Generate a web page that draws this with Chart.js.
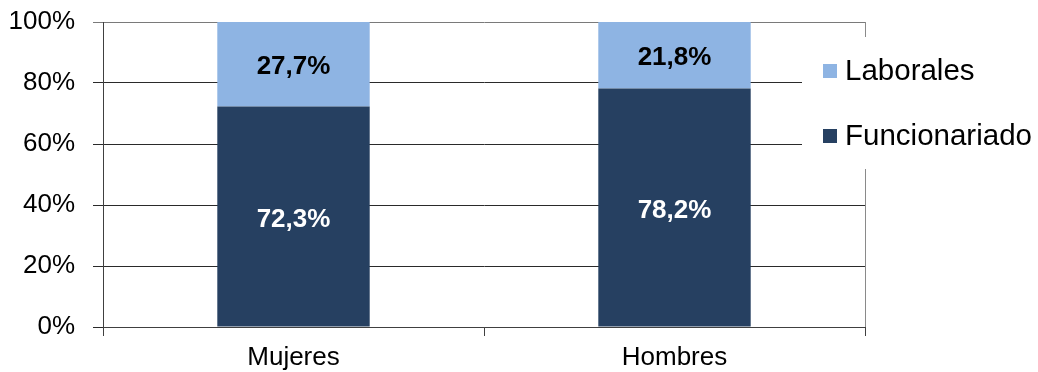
<!DOCTYPE html>
<html>
<head>
<meta charset="utf-8">
<script src="https://cdn.jsdelivr.net/npm/chart.js@4.4.1/dist/chart.umd.min.js"></script>
<style>
  html, body { margin: 0; padding: 0; background: #ffffff; }
  #wrap { width: 1038px; height: 372px; }
</style>
</head>
<body>
<div id="wrap"><canvas id="c" width="1038" height="372"></canvas></div>
<script>
const categories = ["Mujeres", "Hombres"];
const funcionariado = [72.3, 78.2];
const laborales = [27.7, 21.8];
const yTicks = [0, 20, 40, 60, 80, 100];
const seriesNames = ["Funcionariado", "Laborales"];
const seriesColors = ["#264061", "#8EB4E3"];
const labelColors = ["#ffffff", "#000000"];

const FONT = "'Liberation Sans', Arial, sans-serif";

const valueLabels = {
  id: 'valueLabels',
  afterDatasetsDraw(chart) {
    const ctx = chart.ctx;
    ctx.save();
    ctx.font = "bold 26px " + FONT;
    ctx.textAlign = 'center';
    ctx.textBaseline = 'middle';
    chart.data.datasets.forEach((ds, di) => {
      const meta = chart.getDatasetMeta(di);
      meta.data.forEach((el, i) => {
        const p = el.getProps(['x', 'y', 'base'], true);
        const cy = (p.y + p.base) / 2;
        ctx.fillStyle = labelColors[di];
        ctx.fillText(ds.data[i].toFixed(1).replace('.', ',') + '%', p.x, cy + 3);
      });
    });
    ctx.restore();
  }
};

const frameAndLegend = {
  id: 'frameAndLegend',
  afterDraw(chart) {
    const ctx = chart.ctx;
    const a = chart.chartArea;
    ctx.save();
    ctx.strokeStyle = '#8a8a8a';
    ctx.lineWidth = 1;
    ctx.beginPath();
    ctx.moveTo(Math.round(a.right) + 0.5, a.top);
    ctx.lineTo(Math.round(a.right) + 0.5, a.bottom);
    ctx.stroke();
    const lx = a.right - 63;
    const ly = a.top + 15;
    ctx.fillStyle = '#ffffff';
    ctx.fillRect(lx, ly, chart.width - lx, 132);
    ctx.font = "29.5px " + FONT;
    ctx.textBaseline = 'middle';
    ctx.textAlign = 'left';
    const order = [1, 0];
    order.forEach((di, k) => {
      const cy = ly + 34 + k * 65;
      ctx.fillStyle = chart.data.datasets[di].backgroundColor;
      ctx.fillRect(lx + 21, cy - 7, 14, 14);
      ctx.fillStyle = '#000000';
      ctx.fillText(chart.data.datasets[di].label, lx + 43, cy + 1);
    });
    ctx.restore();
  }
};

new Chart(document.getElementById('c'), {
  type: 'bar',
  data: {
    labels: categories,
    datasets: [
      { label: seriesNames[0], data: funcionariado, backgroundColor: seriesColors[0], borderWidth: 0 },
      { label: seriesNames[1], data: laborales, backgroundColor: seriesColors[1], borderWidth: 0 }
    ]
  },
  options: {
    responsive: false,
    devicePixelRatio: 1,
    animation: false,
    layout: { padding: { left: 0, right: 173, top: 22, bottom: 0 } },
    plugins: { legend: { display: false }, tooltip: { enabled: false } },
    datasets: { bar: { barPercentage: 0.4, categoryPercentage: 1.0 } },
    scales: {
      x: {
        stacked: true,
        offset: true,
        grid: { offset: true, drawOnChartArea: false, drawTicks: true, tickLength: 9, color: '#404040' },
        border: { color: '#404040', width: 1 },
        ticks: { color: '#000000', font: { family: FONT, size: 26 }, padding: 6, maxRotation: 0 },
        afterFit(s) { s.height = 45; s.paddingLeft = 0; s.paddingRight = 0; }
      },
      y: {
        stacked: true,
        min: 0,
        max: 100,
        afterBuildTicks(s) { s.ticks = yTicks.map(v => ({ value: v })); },
        grid: {
          color: (c) => (c.tick && c.tick.value === 100) ? '#7a7a7a' : '#2a2a2a',
          drawTicks: true, tickLength: 10
        },
        border: { color: '#404040', width: 1 },
        ticks: {
          color: '#000000', font: { family: FONT, size: 26 }, padding: 18,
          callback: (v) => v + '%'
        },
        afterFit(s) { s.width = 103; s.paddingTop = 0; s.paddingBottom = 0; }
      }
    }
  },
  plugins: [valueLabels, frameAndLegend]
});
</script>
</body>
</html>
